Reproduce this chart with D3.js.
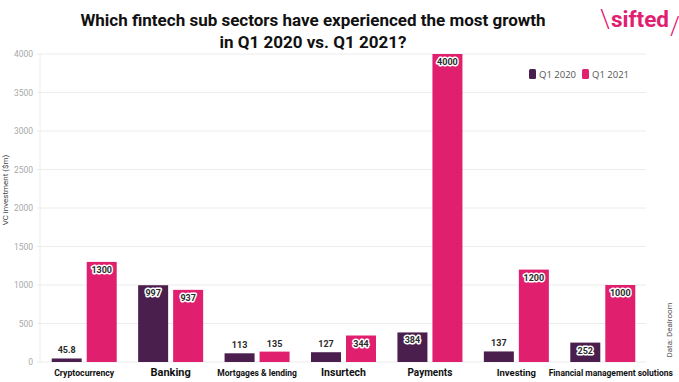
<!DOCTYPE html>
<html>
<head>
<meta charset="utf-8">
<script src="https://cdn.jsdelivr.net/npm/d3@7"></script>
<style>
  body { margin: 0; background: #fff; }
  svg { display: block; }
</style>
</head>
<body>
<svg id="chart" width="679" height="382"></svg>
<script>
const categories = ['Cryptocurrency', 'Banking', 'Mortgages & lending', 'Insurtech', 'Payments', 'Investing', 'Financial management solutions']
const q1_2020 = [45.8, 997, 113, 127, 384, 137, 252]
const q1_2021 = [1300, 937, 135, 344, 4000, 1200, 1000]
const seriesNames = ['Q1 2020', 'Q1 2021']
const yTicks = [0, 500, 1000, 1500, 2000, 2500, 3000, 3500, 4000]

// look
const colors = ['#4a1f4e', '#e0206f']
const catFont = { 'Cryptocurrency': 8.7, 'Banking': 11, 'Mortgages & lending': 8.5, 'Insurtech': 10.5, 'Payments': 10, 'Investing': 9.5, 'Financial management solutions': 8.5 }
const catShift = { 'Financial management solutions': 8 }
const font = 'Roboto, "Open Sans", sans-serif'

const svg = d3.select('#chart')
const plotLeft = 41, plotRight = 646, plotTop = 54, plotBottom = 362

const x = d3.scaleBand().domain(categories).range([plotLeft, plotRight])
const xs = d3.scaleBand().domain(seriesNames)
  .range([x.bandwidth() / 2 - 32.5, x.bandwidth() / 2 + 32.5]).paddingInner(5 / 35)
const y = d3.scaleLinear().domain([0, 4000]).range([plotBottom, plotTop])

// grid
svg.append('g').selectAll('line').data(yTicks).enter().append('line')
  .attr('x1', plotLeft - 4).attr('x2', plotRight)
  .attr('y1', d => y(d)).attr('y2', d => y(d))
  .attr('stroke', '#ececec').attr('stroke-width', 1)
svg.append('line').attr('x1', plotLeft - 1).attr('x2', plotLeft - 1)
  .attr('y1', plotTop).attr('y2', plotBottom).attr('stroke', '#ececec')

svg.append('g').selectAll('text').data(yTicks).enter().append('text')
  .attr('x', plotLeft - 8).attr('y', d => y(d) + 3)
  .attr('text-anchor', 'end')
  .style('font-family', font).style('font-size', '8.5px').style('fill', '#a8a8a8')
  .text(d => d)

svg.append('text')
  .attr('transform', 'translate(8,' + 190 + ') rotate(-90)')
  .attr('text-anchor', 'middle')
  .style('font-family', font).style('font-size', '8px').style('fill', '#444')
  .text('VC investment ($m)')

// bars
const rows = categories.map((c, i) => ({ cat: c, vals: [q1_2020[i], q1_2021[i]] }))
const groups = svg.append('g').selectAll('g').data(rows).enter().append('g')
  .attr('transform', d => 'translate(' + x(d.cat) + ',0)')

const bars = groups.selectAll('g').data(d => d.vals.map((v, j) => ({ v: v, s: seriesNames[j], j: j })))
  .enter().append('g')

bars.append('rect')
  .attr('x', d => xs(d.s)).attr('width', xs.bandwidth())
  .attr('y', d => y(d.v)).attr('height', d => y(0) - y(d.v))
  .attr('fill', d => colors[d.j])

bars.append('text')
  .attr('x', d => xs(d.s) + xs.bandwidth() / 2)
  .attr('y', d => d.v > 200 ? y(d.v) + 11 : y(d.v) - 5)
  .attr('text-anchor', 'middle')
  .style('font-family', font).style('font-size', '9px').style('font-weight', 'bold')
  .style('fill', '#2b2b2b')
  .style('stroke', d => d.v > 200 ? '#fff' : 'none')
  .style('stroke-width', 3).style('stroke-linejoin', 'round')
  .style('paint-order', 'stroke')
  .text(d => d.v)

groups.append('text')
  .attr('x', d => x.bandwidth() / 2 + (catShift[d.cat] || 0)).attr('y', 376)
  .attr('text-anchor', 'middle')
  .style('font-family', font).style('font-weight', 'bold')
  .style('font-size', d => catFont[d.cat] + 'px').style('fill', '#111')
  .text(d => d.cat)

// legend
const legend = svg.append('g').attr('transform', 'translate(529,69)')
const li = legend.selectAll('g').data(seriesNames).enter().append('g')
  .attr('transform', (d, i) => 'translate(' + (i * 53) + ',0)')
li.append('rect').attr('width', 7).attr('height', 10).attr('rx', 1.5)
  .attr('fill', (d, i) => colors[i])
li.append('text').attr('x', 10).attr('y', 9)
  .style('font-family', '"Open Sans", sans-serif').style('font-size', '9.5px').style('fill', '#555')
  .text(d => d)

// title
const title = svg.append('text').attr('x', 313).attr('text-anchor', 'middle')
  .style('font-family', font).style('font-weight', 'bold').style('font-size', '17px').style('fill', '#111')
title.append('tspan').attr('x', 313).attr('y', 26).text('Which fintech sub sectors have experienced the most growth')
title.append('tspan').attr('x', 313).attr('y', 48).text('in Q1 2020 vs. Q1 2021?')

// logo
svg.append('text').attr('x', 600).attr('y', 28)
  .style('font-family', font).style('font-size', '25px').style('font-weight', '300').style('fill', '#e0206f')
  .text('\\')
svg.append('text').attr('x', 611).attr('y', 27)
  .attr('textLength', 58).attr('lengthAdjust', 'spacingAndGlyphs')
  .style('font-family', font).style('font-size', '22px').style('font-weight', 'bold').style('fill', '#e0206f')
  .text('sifted')
svg.append('text').attr('x', 670).attr('y', 35)
  .style('font-family', font).style('font-size', '25px').style('font-weight', '300').style('fill', '#e0206f')
  .text('/')

// source
svg.append('text')
  .attr('transform', 'translate(672,330) rotate(-90)')
  .attr('text-anchor', 'middle')
  .style('font-family', font).style('font-size', '8px').style('fill', '#555')
  .text('Data: Dealroom')
</script>
</body>
</html>
